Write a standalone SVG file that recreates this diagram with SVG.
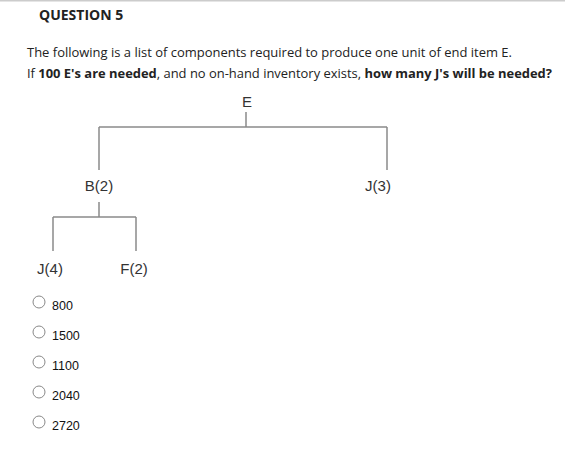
<svg xmlns="http://www.w3.org/2000/svg" width="565" height="454" viewBox="0 0 565 454">
<style>
.q{font-family:"Open Sans","Liberation Sans",sans-serif;font-size:13px;fill:#222}
.b{font-weight:bold}
.h{font-family:"Open Sans","Liberation Sans",sans-serif;font-size:14px;font-weight:bold;fill:#222}
.n{font-family:"Liberation Sans","Open Sans",sans-serif;font-size:15px;fill:#333;text-anchor:middle}
.c{stroke:#8a8a8a;stroke-width:1.5;fill:none}
.r{fill:#fff;stroke:#888;stroke-width:1}
.o{font-family:"Liberation Sans","Open Sans",sans-serif;font-size:12.5px;fill:#111}
</style>
<rect width="565" height="454" fill="#fff"/>
<line x1="0" y1="0.75" x2="565" y2="0.75" stroke="#ccc" stroke-width="1.5"/>
<text class="h" x="39" y="20">QUESTION 5</text>
<text class="q" x="27" y="57" textLength="485" lengthAdjust="spacingAndGlyphs">The following is a list of components required to produce one unit of end item E.</text>
<text class="q" x="27" y="78" textLength="525" lengthAdjust="spacingAndGlyphs">If <tspan class="b">100 E's are needed</tspan>, and no on-hand inventory exists, <tspan class="b">how many J's will be needed?</tspan></text>
<g id="connectors">
<path class="c" d="M246 112V127M99 127H387M99 127V170M387 127V170"/>
<path class="c" d="M99 202V217M53 217H136M53 217V251M136 217V251"/>
</g>
<g id="E"><text class="n" x="247" y="107">E</text></g>
<g id="B2"><text class="n" x="99" y="191">B(2)</text></g>
<g id="J3"><text class="n" x="378" y="191">J(3)</text></g>
<g id="J4"><text class="n" x="50" y="274">J(4)</text></g>
<g id="F2"><text class="n" x="134" y="274">F(2)</text></g>
<g id="options">
<circle class="r" cx="39" cy="302" r="6"/><text class="o" x="52" y="310">800</text>
<circle class="r" cx="39" cy="332" r="6"/><text class="o" x="52" y="340">1500</text>
<circle class="r" cx="39" cy="362" r="6"/><text class="o" x="52" y="370">1100</text>
<circle class="r" cx="39" cy="392" r="6"/><text class="o" x="52" y="400">2040</text>
<circle class="r" cx="39" cy="422" r="6"/><text class="o" x="52" y="430">2720</text>
</g>
</svg>
